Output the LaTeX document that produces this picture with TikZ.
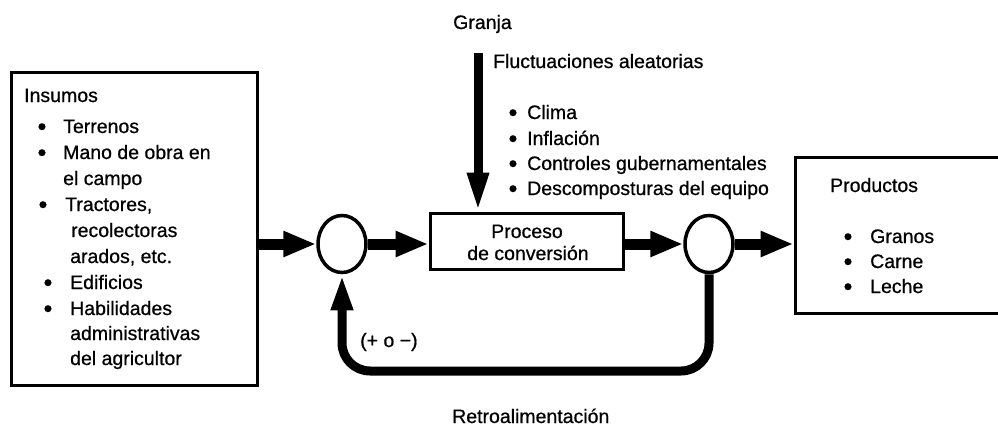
\documentclass[tikz,border=0pt]{standalone}
\usepackage{fontspec}
\setmainfont[FakeBold=0.7]{Liberation Sans}
\usetikzlibrary{arrows.meta,shapes.geometric}
\newcommand\myfs{\fontsize{19.5}{25}\selectfont}
\newcommand\mybulfs{\fontsize{25}{25}\selectfont}
\tikzset{
  txt/.style={inner sep=0pt, anchor=base west, font=\myfs},
  ctxt/.style={inner sep=0pt, anchor=base, font=\myfs},
  bul/.style={inner sep=0pt, anchor=base, font=\mybulfs, yshift=-2pt},
  box/.style={draw, line width=3pt, rectangle, inner sep=0pt},
  junc/.style={draw, line width=3.5pt, ellipse, inner sep=0pt, minimum width=48pt, minimum height=57pt},
  flow/.style={line width=11pt, -{Triangle[length=33pt,width=24pt]}},
  flowv/.style={line width=9pt, -{Triangle[length=39pt,width=20pt]}},
  fback/.style={line width=9pt, rounded corners=28pt, -{Triangle[length=36pt,width=20pt]}}
}
\begin{document}
\begin{tikzpicture}[x=1pt,y=-1pt]
\useasboundingbox (0,0) rectangle (998,428);

% boxes
\node[box, minimum width=246pt, minimum height=313pt] (ins) at (134,228.5) {};
\node[box, minimum width=193pt, minimum height=56pt] (proc) at (526.5,241) {};
\node[box, minimum width=212pt, minimum height=156pt] (prod) at (901,235) {};

% junctions
\node[junc] (c1) at (342,244) {};
\node[junc] (c2) at (709,244) {};

% Insumos text
\node[txt] (insT) at (24,102) {Insumos};
\node[bul] (b1) at (42,133) {•};
\node[txt] (t1) at (63,133) {Terrenos};
\node[bul] (b2) at (42,159) {•};
\node[txt] (t2) at (63,159) {Mano de obra en};
\node[txt] (t2b) at (63,185) {el campo};
\node[bul] (b3) at (43,211) {•};
\node[txt] (t3) at (65,211) {Tractores,};
\node[txt] (t3b) at (71,237) {recolectoras};
\node[txt] (t3c) at (70,263) {arados, etc.};
\node[bul] (b4) at (48,289) {•};
\node[txt] (t4) at (70,289) {Edificios};
\node[bul] (b5) at (48,315) {•};
\node[txt] (t5) at (70,315) {Habilidades};
\node[txt] (t5b) at (70,340) {administrativas};
\node[txt] (t5c) at (70,365) {del agricultor};

% Granja / fluctuaciones
\node[txt] (granja) at (453,29) {Granja};
\node[txt] (fluc) at (493,68) {Fluctuaciones aleatorias};
\node[bul] (f1b) at (513,119) {•};
\node[txt] (f1) at (527,119) {Clima};
\node[bul] (f2b) at (513,145) {•};
\node[txt] (f2) at (527,145) {Inflación};
\node[bul] (f3b) at (513,170) {•};
\node[txt] (f3) at (527,170) {Controles gubernamentales};
\node[bul] (f4b) at (513,195) {•};
\node[txt] (f4) at (527,195) {Descomposturas del equipo};

% process text
\node[ctxt] (p1) at (527,238) {Proceso};
\node[ctxt] (p2) at (528,260) {de conversión};

% Productos text
\node[txt] (prodT) at (830,192) {Productos};
\node[bul] (g1b) at (848,243) {•};
\node[txt] (g1) at (870,243) {Granos};
\node[bul] (g2b) at (848,268) {•};
\node[txt] (g2) at (870,268) {Carne};
\node[bul] (g3b) at (848,293) {•};
\node[txt] (g3) at (870,293) {Leche};

% feedback labels
\node[txt] (pm) at (360,347) {(+ o −)};
\node[txt] (retro) at (452,423) {Retroalimentación};

% connectors
\coordinate (vtop) at (478,53);
\draw[flowv] (vtop) -- (proc.north -| vtop);
\draw[flow] (ins.east |- c1) -- (c1.west);
\draw[flow] (c1.east) -- (proc.west |- c1.east);
\draw[flow] (proc.east |- c2.west) -- (c2.west);
\draw[flow] (c2.east) -- (prod.west |- c2.east);
\draw[fback] (c2.south) -- (c2.south |- 0,371) -- (c1.south |- 0,371) -- (c1.south);
\end{tikzpicture}
\end{document}
